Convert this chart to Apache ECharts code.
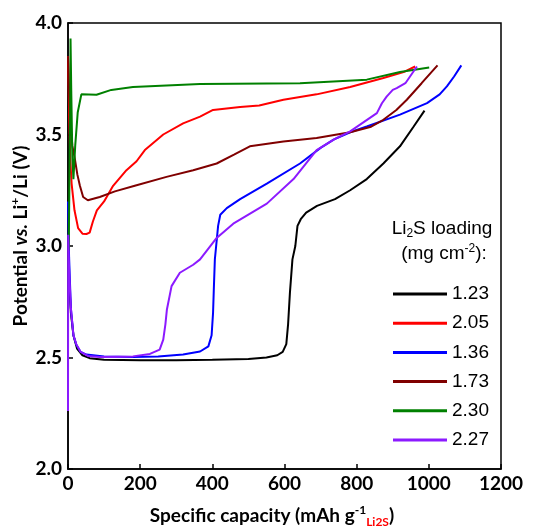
<!DOCTYPE html>
<html>
<head>
<meta charset="utf-8">
<script src="https://cdn.jsdelivr.net/npm/echarts@6/dist/echarts.min.js"></script>
<style>html,body{margin:0;padding:0;background:#fff;}#c{width:539px;height:530px;}</style>
</head>
<body>
<div id="c"></div>
<script>
// Tick settings
const xTicks = [0, 200, 400, 600, 800, 1000, 1200];
const yTicks = [2.0, 2.5, 3.0, 3.5, 4.0];

// Legend names (Li2S loading, mg cm-2)
const seriesNames = ['1.23', '2.05', '1.36', '1.73', '2.30', '2.27'];

// [capacity mAh/g, potential V]
const s123 = [[0,3.0],[3,2.85],[8,2.7],[15,2.6],[25,2.54],[40,2.51],[60,2.497],[100,2.49],[200,2.488],[300,2.488],[400,2.49],[500,2.493],[550,2.50],[580,2.51],[595,2.525],[605,2.56],[610,2.65],[615,2.79],[622,2.94],[630,3.0],[636,3.09],[645,3.12],[660,3.15],[690,3.18],[740,3.21],[782,3.25],[828,3.30],[874,3.37],[920,3.447],[958,3.536],[988,3.607]];
const s205 = [[0,3.85],[3,3.6],[6,3.4],[10,3.28],[18,3.16],[28,3.08],[40,3.055],[51,3.054],[60,3.06],[69,3.11],[80,3.16],[100,3.2],[125,3.27],[162,3.34],[190,3.38],[213,3.43],[264,3.50],[319,3.55],[366,3.58],[402,3.61],[477,3.623],[530,3.63],[597,3.656],[689,3.68],[782,3.713],[874,3.753],[930,3.78],[962,3.805]];
const s136 = [[0,3.2],[3,2.95],[8,2.72],[15,2.6],[23,2.557],[35,2.525],[51,2.513],[100,2.505],[180,2.502],[250,2.505],[319,2.513],[366,2.527],[389,2.55],[398,2.6],[402,2.7],[404,2.8],[407,2.94],[410,2.99],[416,3.09],[422,3.14],[440,3.17],[477,3.21],[551,3.28],[643,3.37],[700,3.44],[736,3.477],[782,3.51],[828,3.536],[920,3.589],[995,3.641],[1030,3.68],[1050,3.716],[1070,3.76],[1090,3.81]];
const s173 = [[0,3.85],[5,3.6],[12,3.45],[19,3.39],[26,3.32],[33,3.27],[42,3.22],[55,3.205],[88,3.22],[130,3.245],[185,3.27],[273,3.31],[347,3.34],[412,3.37],[460,3.41],[504,3.447],[597,3.469],[689,3.484],[782,3.51],[840,3.535],[874,3.566],[910,3.61],[939,3.656],[980,3.73],[1024,3.81]];
const s230 = [[2,2.98],[4,3.3],[6,3.6],[7,3.93],[9,3.7],[12,3.4],[15,3.3],[20,3.45],[27,3.6],[37,3.68],[79,3.678],[120,3.7],[180,3.713],[366,3.726],[643,3.73],[828,3.746],[920,3.78],[1001,3.80]];
const s227 = [[0,2.26],[0.5,3.05],[3,2.9],[8,2.72],[15,2.6],[23,2.56],[35,2.525],[55,2.507],[88,2.502],[180,2.505],[227,2.516],[254,2.535],[264,2.58],[270,2.65],[274,2.714],[287,2.82],[310,2.88],[347,2.916],[366,2.94],[412,3.036],[458,3.10],[551,3.19],[625,3.30],[689,3.43],[740,3.48],[782,3.514],[856,3.596],[870,3.64],[883,3.67],[900,3.70],[911,3.708],[935,3.73],[967,3.805]];

const seriesData = [s123, s205, s136, s173, s230, s227];
const colors = ['#000000', '#ff0000', '#0000ff', '#800000', '#008000', '#8c1aff'];

const tickFont = 'Lato';
const chart = echarts.init(document.getElementById('c'), null, {renderer: 'canvas'});

const titleRichY = {
  t: {fontFamily: tickFont, fontWeight: 'bold', fontSize: 19, fill: '#000'},
  i: {fontFamily: tickFont, fontWeight: 'bold', fontStyle: 'italic', fontSize: 19, fill: '#000'},
  sup: {fontFamily: tickFont, fontWeight: 'bold', fontSize: 12, fill: '#000', padding: [0, 0, 12, 0]}
};
const titleRichX = {
  t: {fontFamily: tickFont, fontWeight: 'bold', fontSize: 19, fill: '#000'},
  sup: {fontFamily: tickFont, fontWeight: 'bold', fontSize: 12, fill: '#000', padding: [0, 0, 12, 0]},
  sub: {fontFamily: tickFont, fontWeight: 'bold', fontSize: 12, fill: '#ff0000', padding: [12, 0, 0, 0]}
};

const option = {
  animation: false,
  backgroundColor: '#ffffff',
  grid: {left: 68, right: 38, top: 23, bottom: 61, show: true, borderColor: '#000', borderWidth: 1.5, backgroundColor: 'transparent'},
  xAxis: {
    type: 'value', min: xTicks[0], max: xTicks[xTicks.length - 1], interval: 200,
    axisLine: {show: true, lineStyle: {color: '#000', width: 1.5}},
    axisTick: {show: true, inside: true, length: 5, lineStyle: {color: '#000', width: 1.5}},
    splitLine: {show: false},
    axisLabel: {color: '#000', fontFamily: tickFont, fontWeight: 'bold', fontSize: 19, margin: 5,
      formatter: v => String(v)}
  },
  yAxis: {
    type: 'value', min: yTicks[0], max: yTicks[yTicks.length - 1], interval: 0.5,
    axisLine: {show: true, lineStyle: {color: '#000', width: 1.5}},
    axisTick: {show: true, inside: true, length: 5, lineStyle: {color: '#000', width: 1.5}},
    splitLine: {show: false},
    axisLabel: {color: '#000', fontFamily: tickFont, fontWeight: 'bold', fontSize: 19, margin: 6,
      formatter: v => v.toFixed(1)}
  },
  legend: {
    orient: 'vertical', left: 388, top: 279.5,
    itemWidth: 54, itemHeight: 14, itemGap: 10.2,
    data: seriesNames.map((n, i) => ({name: n, icon: 'path://M0,0L54,0L54,3L0,3Z', itemStyle: {color: colors[i]}})),
    textStyle: {fontFamily: 'Liberation Sans', fontSize: 19, color: '#000'}
  },
  graphic: [
    {type: 'text', x: 21, y: 236, rotation: Math.PI / 2,
      style: {text: '{t|Potential }{i|vs.}{t| Li}{sup|+}{t|/Li (V)}', align: 'center', verticalAlign: 'middle', rich: titleRichY}},
    {type: 'text', x: 272, y: 516,
      style: {text: '{t|Specific capacity (mAh g}{sup|-1}{sub|Li2S}{t|)}', align: 'center', verticalAlign: 'middle', rich: titleRichX}},
    {type: 'text', x: 442, y: 229, style: {text: 'Li{sub|2}S loading', align: 'center', verticalAlign: 'middle',
      fontFamily: 'Liberation Sans', fontSize: 19, fill: '#000',
      rich: {sub: {fontFamily: 'Liberation Sans', fontSize: 12, fill: '#000', padding: [10, 0, 0, 0]}}}},
    {type: 'text', x: 444, y: 254, style: {text: '(mg cm{sup|-2}):', align: 'center', verticalAlign: 'middle',
      fontFamily: 'Liberation Sans', fontSize: 19, fill: '#000',
      rich: {sup: {fontFamily: 'Liberation Sans', fontSize: 12, fill: '#000', padding: [0, 0, 10, 0]}}}}
  ],
  series: seriesNames.map((n, i) => ({
    name: n, type: 'line', data: seriesData[i], showSymbol: false, symbol: 'none',
    lineStyle: {color: colors[i], width: 2}, itemStyle: {color: colors[i]}, z: 2 + i
  }))
};
chart.setOption(option);
</script>
</body>
</html>
